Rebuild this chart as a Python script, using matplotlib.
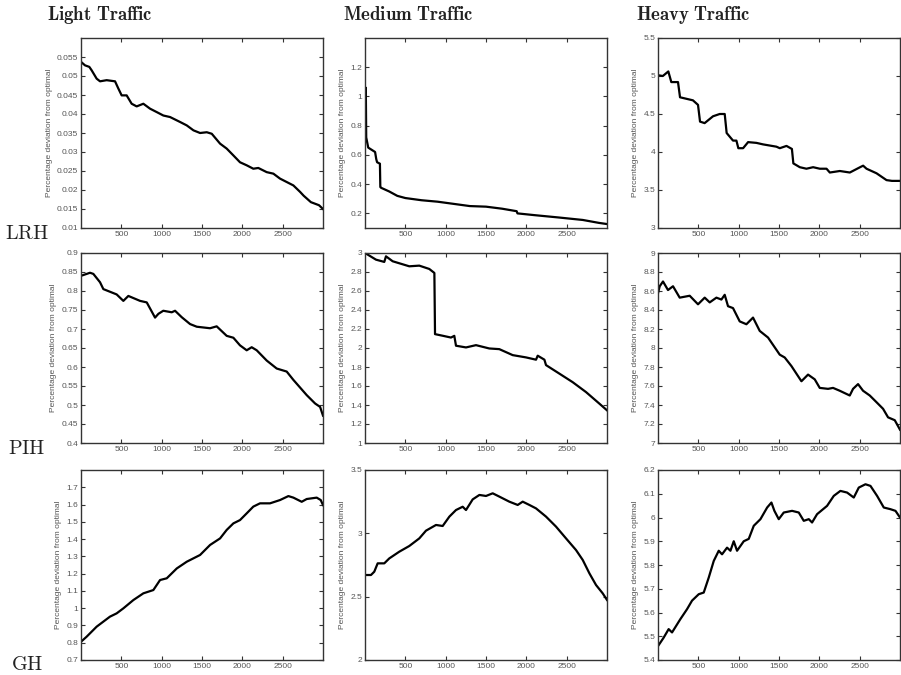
import matplotlib.pyplot as plt

plt.rcParams['mathtext.fontset'] = 'cm'
plt.rcParams['font.family'] = ['Liberation Sans', 'DejaVu Sans']

# ---- data ----
traffic = ["Light Traffic", "Medium Traffic", "Heavy Traffic"]
heuristics = ["LRH", "PIH", "GH"]
x_ticks = [500, 1000, 1500, 2000, 2500]

# LRH row
light_lrh_x = [1, 50, 103, 132, 194, 236, 318, 422, 463, 504, 566, 628, 690, 773, 856, 939, 1021,
               1104, 1228, 1311, 1394, 1476, 1559, 1621, 1724, 1806, 1889, 1971, 2054, 2136, 2198,
               2302, 2385, 2467, 2550, 2633, 2716, 2760, 2850, 2950, 3000]
light_lrh_y = [0.0537, 0.0528, 0.0524, 0.0515, 0.0493, 0.0486, 0.0489, 0.0486, 0.0467, 0.0449,
               0.0449, 0.0427, 0.0420, 0.0427, 0.0414, 0.0405, 0.0396, 0.0392, 0.0379, 0.0370,
               0.0357, 0.0350, 0.0352, 0.0348, 0.0322, 0.0309, 0.0291, 0.0273, 0.0265, 0.0256,
               0.0258, 0.0247, 0.0243, 0.0230, 0.0221, 0.0212, 0.0195, 0.0185, 0.0168, 0.0160,
               0.0150]
medium_lrh_x = [1, 5, 10, 15, 40, 125, 140, 150, 185, 190, 200, 300, 400, 500, 700, 900, 1100,
                1300, 1500, 1700, 1880, 1890, 2100, 2400, 2700, 2900, 3000]
medium_lrh_y = [0.70, 0.95, 1.06, 0.72, 0.65, 0.62, 0.57, 0.55, 0.54, 0.38, 0.375, 0.35, 0.32,
                0.305, 0.29, 0.28, 0.265, 0.25, 0.246, 0.232, 0.215, 0.200, 0.188, 0.172, 0.155,
                0.135, 0.127]
heavy_lrh_x = [1, 60, 128, 165, 248, 273, 433, 496, 521, 578, 682, 765, 827, 851, 930, 972, 996,
               1055, 1117, 1220, 1303, 1468, 1510, 1593, 1660, 1678, 1758, 1840, 1923, 2006, 2089,
               2130, 2254, 2378, 2505, 2543, 2585, 2709, 2833, 2900, 3000]
heavy_lrh_y = [5.01, 5.00, 5.06, 4.92, 4.92, 4.72, 4.68, 4.62, 4.40, 4.38, 4.47, 4.50, 4.50,
               4.25, 4.15, 4.15, 4.05, 4.05, 4.13, 4.12, 4.10, 4.07, 4.05, 4.08, 4.04, 3.85, 3.80,
               3.78, 3.80, 3.78, 3.78, 3.73, 3.75, 3.73, 3.80, 3.82, 3.78, 3.72, 3.63, 3.62, 3.62]

# PIH row
light_pih_x = [1, 112, 153, 236, 277, 442, 525, 587, 732, 815, 918, 960, 1020, 1125, 1166, 1249,
               1352, 1435, 1600, 1682, 1806, 1889, 1971, 2054, 2116, 2178, 2302, 2426, 2550, 2633,
               2798, 2902, 2964, 3000]
light_pih_y = [0.840, 0.848, 0.845, 0.823, 0.805, 0.791, 0.774, 0.787, 0.774, 0.770, 0.730, 0.740,
               0.748, 0.744, 0.748, 0.731, 0.713, 0.706, 0.702, 0.707, 0.682, 0.677, 0.657, 0.644,
               0.652, 0.644, 0.617, 0.596, 0.588, 0.566, 0.526, 0.504, 0.495, 0.472]
medium_pih_x = [1, 136, 239, 260, 343, 549, 673, 797, 860, 868, 963, 1066, 1107, 1128, 1252, 1376,
                1541, 1665, 1831, 1996, 2120, 2141, 2224, 2244, 2410, 2575, 2740, 2906, 3000]
medium_pih_y = [3.00, 2.93, 2.906, 2.965, 2.913, 2.86, 2.867, 2.832, 2.79, 2.146, 2.129, 2.11,
                2.128, 2.024, 2.006, 2.03, 1.995, 1.988, 1.925, 1.901, 1.877, 1.919, 1.877, 1.82,
                1.73, 1.64, 1.536, 1.414, 1.344]
heavy_pih_x = [1, 21, 62, 124, 186, 269, 393, 496, 579, 641, 724, 786, 827, 868, 930, 1013, 1096,
               1178, 1261, 1364, 1509, 1571, 1654, 1778, 1860, 1943, 2005, 2108, 2170, 2253, 2377,
               2418, 2480, 2542, 2625, 2708, 2790, 2852, 2935, 3000]
heavy_pih_y = [8.58, 8.65, 8.70, 8.61, 8.65, 8.53, 8.55, 8.46, 8.53, 8.48, 8.53, 8.51, 8.56, 8.44,
               8.42, 8.28, 8.25, 8.32, 8.18, 8.11, 7.93, 7.90, 7.81, 7.65, 7.72, 7.67, 7.58, 7.57,
               7.58, 7.55, 7.50, 7.57, 7.62, 7.55, 7.50, 7.43, 7.36, 7.27, 7.24, 7.14]

# GH row
light_gh_x = [1, 70, 194, 359, 442, 525, 649, 773, 897, 980, 1063, 1187, 1311, 1476, 1600, 1724,
              1806, 1889, 1971, 2054, 2136, 2219, 2343, 2467, 2571, 2633, 2736, 2798, 2922, 2972,
              3000]
light_gh_y = [0.806, 0.835, 0.893, 0.951, 0.970, 0.999, 1.047, 1.086, 1.105, 1.163, 1.173, 1.230,
              1.269, 1.308, 1.366, 1.404, 1.453, 1.491, 1.510, 1.549, 1.588, 1.607, 1.607, 1.626,
              1.649, 1.640, 1.616, 1.632, 1.640, 1.626, 1.597]
medium_gh_x = [1, 74, 115, 157, 239, 301, 425, 549, 673, 756, 880, 963, 1046, 1128, 1211, 1252,
               1335, 1418, 1500, 1583, 1665, 1789, 1893, 1955, 2038, 2120, 2244, 2368, 2492, 2616,
               2699, 2782, 2864, 2947, 3000]
medium_gh_y = [2.671, 2.671, 2.697, 2.763, 2.763, 2.802, 2.855, 2.900, 2.960, 3.021, 3.066, 3.058,
               3.132, 3.184, 3.210, 3.184, 3.268, 3.303, 3.295, 3.316, 3.290, 3.250, 3.224, 3.250,
               3.224, 3.197, 3.132, 3.053, 2.960, 2.868, 2.790, 2.684, 2.592, 2.526, 2.474]
heavy_gh_x = [1, 70, 132, 174, 277, 360, 422, 505, 567, 629, 691, 753, 794, 856, 898, 939, 980,
              1063, 1125, 1187, 1270, 1353, 1406, 1443, 1497, 1559, 1662, 1745, 1807, 1869, 1910,
              1972, 2096, 2179, 2261, 2344, 2427, 2489, 2572, 2634, 2716, 2799, 2882, 2944, 3000]
heavy_gh_y = [5.459, 5.494, 5.530, 5.516, 5.572, 5.614, 5.650, 5.677, 5.684, 5.747, 5.817, 5.860,
              5.845, 5.873, 5.860, 5.900, 5.860, 5.900, 5.910, 5.965, 5.993, 6.042, 6.063, 6.028,
              5.993, 6.021, 6.028, 6.021, 5.986, 5.993, 5.979, 6.014, 6.049, 6.091, 6.112, 6.105,
              6.084, 6.126, 6.140, 6.133, 6.091, 6.042, 6.035, 6.028, 6.000]

series = [
    [(light_lrh_x, light_lrh_y), (medium_lrh_x, medium_lrh_y), (heavy_lrh_x, heavy_lrh_y)],
    [(light_pih_x, light_pih_y), (medium_pih_x, medium_pih_y), (heavy_pih_x, heavy_pih_y)],
    [(light_gh_x, light_gh_y), (medium_gh_x, medium_gh_y), (heavy_gh_x, heavy_gh_y)],
]
y_limits = [
    [(0.01, 0.06), (0.1, 1.4), (3, 5.5)],
    [(0.4, 0.9), (1, 3), (7, 9)],
    [(0.7, 1.8), (2, 3.5), (5.4, 6.2)],
]
y_ticks = [
    [[0.01, 0.015, 0.02, 0.025, 0.03, 0.035, 0.04, 0.045, 0.05, 0.055],
     [0.2, 0.4, 0.6, 0.8, 1, 1.2],
     [3, 3.5, 4, 4.5, 5, 5.5]],
    [[0.4, 0.45, 0.5, 0.55, 0.6, 0.65, 0.7, 0.75, 0.8, 0.85, 0.9],
     [1, 1.2, 1.4, 1.6, 1.8, 2, 2.2, 2.4, 2.6, 2.8, 3],
     [7, 7.2, 7.4, 7.6, 7.8, 8, 8.2, 8.4, 8.6, 8.8, 9]],
    [[0.7, 0.8, 0.9, 1, 1.1, 1.2, 1.3, 1.4, 1.5, 1.6, 1.7],
     [2, 2.5, 3, 3.5],
     [5.4, 5.5, 5.6, 5.7, 5.8, 5.9, 6, 6.1, 6.2]],
]

W, H = 901, 675
fig = plt.figure(figsize=(W / 100, H / 100), dpi=100)

col_left = [81, 365, 658]
row_top = [38, 253, 470]
ax_w, ax_h = 242, 190


def fmt(v):
    return ('%g' % v)


for r in range(3):
    for c in range(3):
        ax = fig.add_axes([col_left[c] / W, 1 - (row_top[r] + ax_h) / H, ax_w / W, ax_h / H])
        xs, ys = series[r][c]
        ax.plot(xs, ys, color='black', lw=1.6)
        ax.set_xlim(0, 3000)
        ax.set_ylim(*y_limits[r][c])
        ax.set_xticks(x_ticks)
        ax.set_xticklabels([str(t) for t in x_ticks])
        ax.set_yticks(y_ticks[r][c])
        ax.set_yticklabels([fmt(t) for t in y_ticks[r][c]])
        ax.tick_params(direction='in', length=3, width=0.8, top=True, right=True,
                       labelsize=6, colors='#333333', labelcolor='#555555', pad=2)
        for s in ax.spines.values():
            s.set_linewidth(1.0)
            s.set_color('#333333')
        ax.set_ylabel("Percentage deviation from optimal", fontsize=6, color='#555555', labelpad=3)

title_x = [100, 408, 693]
for c in range(3):
    words = traffic[c].replace(' ', r'\ ')
    fig.text(title_x[c] / W, 1 - 15 / H, r'$\mathbf{%s}$' % words, fontsize=13.5,
             ha='center', va='center', color='#222222')

row_label_y = [233, 448, 665]
for r in range(3):
    fig.text(27 / W, 1 - row_label_y[r] / H, r'$\mathrm{%s}$' % heuristics[r], fontsize=14.5,
             ha='center', va='center', color='#222222')

fig.savefig("out.png", dpi=100)
